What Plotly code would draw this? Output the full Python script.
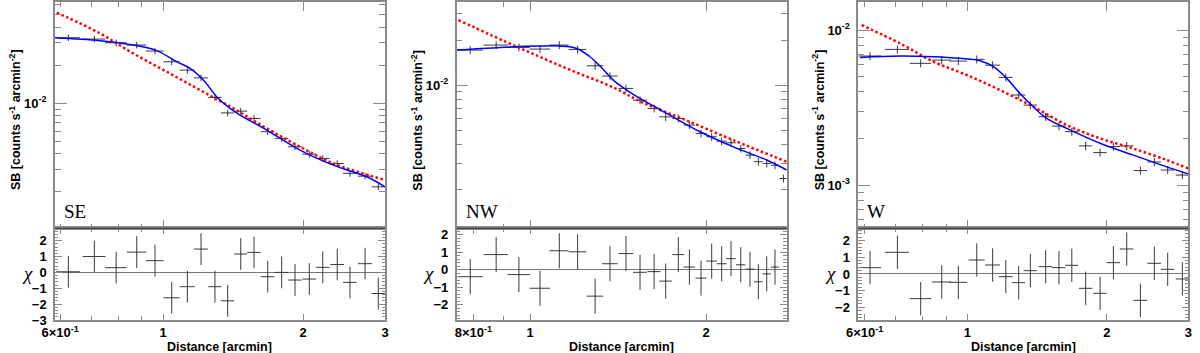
import numpy as np
import plotly.graph_objects as go

W, H = 1200, 353

# ---------------- SE sector ----------------
se_r = [0.625, 0.711, 0.792, 0.877, 0.960, 1.043, 1.127, 1.206, 1.292, 1.376, 1.468,
        1.568, 1.678, 1.798, 1.921, 2.062, 2.204, 2.368, 2.522, 2.718, 2.902]
se_r_err = [0.037, 0.040, 0.042, 0.042, 0.042, 0.042, 0.042, 0.042, 0.042, 0.045, 0.047,
            0.052, 0.057, 0.060, 0.065, 0.070, 0.075, 0.080, 0.085, 0.095, 0.095]
se_sb = [0.0330, 0.0322, 0.0301, 0.0289, 0.0259, 0.0213, 0.0183, 0.0159, 0.01114, 0.0084,
         0.00868, 0.0076, 0.00597, 0.00529, 0.00454, 0.00397, 0.00367, 0.00335, 0.0028,
         0.00266, 0.00219]
se_chi = [0.04, 1.0, 0.3, 1.28, 0.74, -1.6, -0.9, 1.47, -0.9, -1.79, 1.16, 1.26, -0.27,
          0.0, -0.48, -0.42, 0.32, 0.5, -0.63, 0.55, -1.33]
se_fit_r = [0.585, 0.731, 0.862, 0.968, 1.069, 1.142, 1.220, 1.303, 1.392, 1.463, 1.670,
            1.969, 2.322, 2.740, 3.0]
se_fit_sb = [0.0330, 0.0313, 0.0289, 0.0261, 0.02134, 0.0189, 0.01528, 0.01128, 0.00912,
             0.00808, 0.00615, 0.00427, 0.00325, 0.00263, 0.00219]
se_beta_r = [0.590, 0.731, 0.862, 1.017, 1.200, 1.415, 1.670, 1.969, 2.322, 3.0]
se_beta_sb = [0.0521, 0.0357, 0.0248, 0.01778, 0.01274, 0.00912, 0.00634, 0.00454,
              0.00335, 0.00248]

# ---------------- NW sector ----------------
nw_r = [0.790, 0.875, 0.957, 1.040, 1.122, 1.206, 1.292, 1.370, 1.459, 1.542, 1.630, 1.706,
        1.793, 1.873, 1.961, 2.045, 2.127, 2.207, 2.293, 2.378, 2.458, 2.540, 2.624, 2.713]
nw_r_err = [0.040, 0.042, 0.042, 0.042, 0.042, 0.042, 0.042, 0.042, 0.042, 0.042, 0.042,
            0.042, 0.042, 0.042, 0.042, 0.042, 0.042, 0.042, 0.042, 0.042, 0.042, 0.042,
            0.042, 0.042]
nw_sb = [0.01716, 0.01853, 0.01788, 0.01742, 0.01853, 0.01733, 0.01347, 0.01149, 0.00950,
         0.00793, 0.00698, 0.00613, 0.00598, 0.00540, 0.00475, 0.00451, 0.00421, 0.00411,
         0.00376, 0.00340, 0.00307, 0.00299, 0.00291, 0.00237]
nw_chi = [-0.39, 0.87, -0.27, -1.05, 1.09, 1.03, -1.5, 0.35, 0.93, -0.14, -0.1, -0.64, 0.87,
          0.16, -0.47, 0.5, 0.35, 0.64, 0.29, 0.04, -0.68, -0.23, 0.16, None]
nw_fit_r = [0.749, 0.889, 1.040, 1.125, 1.202, 1.266, 1.317, 1.388, 1.463, 1.542, 1.713,
            1.953, 2.227, 2.540, 2.748]
nw_fit_sb = [0.01716, 0.01788, 0.01825, 0.01825, 0.01760, 0.01548, 0.01341, 0.01080,
             0.00926, 0.00814, 0.00646, 0.00487, 0.00386, 0.00315, 0.00270]
nw_beta_r = [0.754, 0.949, 1.155, 1.388, 1.562, 1.829, 2.227, 2.748]
nw_beta_sb = [0.02725, 0.01806, 0.01293, 0.00965, 0.00761, 0.00592, 0.00428, 0.00307]

# ---------------- W sector ----------------
w_r = [0.6164, 0.7063, 0.7930, 0.8805, 0.9564, 1.048, 1.134, 1.211, 1.291, 1.368, 1.476,
       1.577, 1.681, 1.801, 1.935, 2.067, 2.209, 2.364, 2.534, 2.708, 2.913]
w_r_err = [0.035, 0.042, 0.042, 0.042, 0.042, 0.042, 0.042, 0.042, 0.042, 0.045, 0.050,
           0.052, 0.055, 0.060, 0.065, 0.070, 0.075, 0.080, 0.085, 0.090, 0.095]
w_sb = [0.00680, 0.00750, 0.00610, 0.00640, 0.00631, 0.00647, 0.00594, 0.00495, 0.00381,
        0.00328, 0.00276, 0.00240, 0.00221, 0.00179, 0.00162, 0.00177, 0.00179, 0.00124,
        0.00141, 0.00125, 0.00116]
w_chi = [0.38, 1.3, -1.48, -0.48, -0.5, 0.84, 0.54, -0.16, -0.52, 0.2, 0.44, 0.38, 0.52,
         -0.86, -1.16, 0.68, 1.5, -1.58, 0.64, 0.28, -0.3]
w_fit_r = [0.5866, 0.7157, 0.8448, 0.9643, 1.065, 1.138, 1.216, 1.299, 1.388, 1.484, 1.639,
           1.935, 2.283, 2.695, 3.0]
w_fit_sb = [0.00666, 0.00680, 0.00673, 0.00657, 0.00634, 0.00580, 0.00488, 0.00390,
            0.00320, 0.00269, 0.00232, 0.00186, 0.00156, 0.00131, 0.00118]
w_beta_r = [0.5913, 0.7157, 0.8448, 0.9968, 1.176, 1.388, 1.639, 1.935, 2.283, 2.695, 3.0]
w_beta_sb = [0.01077, 0.00820, 0.00625, 0.00513, 0.00410, 0.00320, 0.00244, 0.00200,
             0.00172, 0.00145, 0.00128]

panels = [
    dict(name="SE", r=se_r, rerr=se_r_err, sb=se_sb, chi=se_chi,
         fit_r=se_fit_r, fit_sb=se_fit_sb, beta_r=se_beta_r, beta_sb=se_beta_sb,
         px=(55, 385), xrange=(0.585, 3.0), yrange=(0.00103, 0.0632), chirange=(-3.0, 2.78),
         xmaj=[0.6, 1, 2, 3], xtext=["6×10<sup>-1</sup>", "1", "2", "3"], xmin=[0.7, 0.8, 0.9],
         ymaj=[0.01], ytext=["10<sup>-2</sup>"], chimaj=[-3, -2, -1, 0, 1, 2]),
    dict(name="NW", r=nw_r, rerr=nw_r_err, sb=nw_sb, chi=nw_chi,
         fit_r=nw_fit_r, fit_sb=nw_fit_sb, beta_r=nw_beta_r, beta_sb=nw_beta_sb,
         px=(456.7, 786.7), xrange=(0.749, 2.748), yrange=(0.0011, 0.036), chirange=(-2.86, 2.37),
         xmaj=[0.8, 1, 2], xtext=["8×10<sup>-1</sup>", "1", "2"], xmin=[0.9],
         ymaj=[0.01], ytext=["10<sup>-2</sup>"], chimaj=[-2, -1, 0, 1, 2]),
    dict(name="W", r=w_r, rerr=w_r_err, sb=w_sb, chi=w_chi,
         fit_r=w_fit_r, fit_sb=w_fit_sb, beta_r=w_beta_r, beta_sb=w_beta_sb,
         px=(858.3, 1188.3), xrange=(0.5815, 3.0), yrange=(0.000526, 0.01517), chirange=(-2.76, 2.74),
         xmaj=[0.6, 1, 2, 3], xtext=["6×10<sup>-1</sup>", "1", "2", "3"], xmin=[0.7, 0.8, 0.9],
         ymaj=[0.001, 0.01], ytext=["10<sup>-3</sup>", "10<sup>-2</sup>"], chimaj=[-2, -1, 0, 1, 2]),
]

TOP_Y = (2, 228.3)
RES_Y = (228.3, 320)
FRAME = "#8a8a8a"
DATA = "#3a3a3a"
tickfont = dict(family="Liberation Sans, Arial", size=13, color="black", weight="bold")
log_minor = [m * 10.0 ** e for e in range(-5, 0) for m in range(2, 10)]

fig = go.Figure()
layout = {}
annotations = []
shapes = []

for i, p in enumerate(panels):
    top, res = 2 * i + 1, 2 * i + 2
    xt, xr = f"x{top}", f"x{res}"
    yt, yr = f"y{top}", f"y{res}"
    xdom = [p["px"][0] / W, p["px"][1] / W]

    # surface brightness data
    fig.add_trace(go.Scatter(
        x=p["r"], y=p["sb"], xaxis=xt, yaxis=yt, mode="markers",
        marker=dict(size=1, color=DATA),
        error_x=dict(type="data", array=p["rerr"], width=0, thickness=1, color=DATA),
        error_y=dict(type="percent", value=6, width=0, thickness=1, color=DATA),
        showlegend=False,
    ))
    # single power-law / beta model
    fig.add_trace(go.Scatter(
        x=p["beta_r"], y=p["beta_sb"], xaxis=xt, yaxis=yt, mode="lines",
        line=dict(color="#ff0000", width=2.5, dash="2.5px,2.5px", shape="spline"),
        showlegend=False,
    ))
    # broken power-law fit
    fig.add_trace(go.Scatter(
        x=p["fit_r"], y=p["fit_sb"], xaxis=xt, yaxis=yt, mode="lines",
        line=dict(color="#0000ff", width=1.5, shape="spline"),
        showlegend=False,
    ))
    # residuals
    fig.add_trace(go.Scatter(
        x=p["r"], y=p["chi"], xaxis=xr, yaxis=yr, mode="markers",
        marker=dict(size=1, color=DATA),
        error_x=dict(type="data", array=p["rerr"], width=0, thickness=1, color=DATA),
        error_y=dict(type="constant", value=1, width=0, thickness=1, color=DATA),
        showlegend=False,
    ))

    xlog = [np.log10(p["xrange"][0]), np.log10(p["xrange"][1])]
    common_x = dict(type="log", range=xlog, domain=xdom, showgrid=False, zeroline=False,
                    showline=True, linecolor=FRAME, linewidth=1.5, mirror="allticks",
                    ticks="inside", tickcolor=FRAME, tickwidth=1, tickmode="array",
                    tickfont=tickfont)
    layout[f"xaxis{top}"] = dict(common_x, anchor=yt, tickvals=[1, 2], ticklen=9,
                                 showticklabels=False,
                                 minor=dict(tickmode="array", tickvals=[0.6] + p["xmin"] + [3],
                                            ticks="inside", ticklen=5, tickcolor=FRAME))
    layout[f"xaxis{res}"] = dict(common_x, anchor=yr, tickvals=p["xmaj"], ticktext=p["xtext"],
                                 ticklen=6,
                                 minor=dict(tickmode="array", tickvals=p["xmin"],
                                            ticks="inside", ticklen=4, tickcolor=FRAME))
    layout[f"yaxis{top}"] = dict(
        type="log", range=[np.log10(p["yrange"][0]), np.log10(p["yrange"][1])],
        domain=[1 - TOP_Y[1] / H, 1 - TOP_Y[0] / H], anchor=xt,
        showgrid=False, zeroline=False, showline=True, linecolor=FRAME, linewidth=1.5,
        mirror="allticks", ticks="inside", tickcolor=FRAME, ticklen=12, tickwidth=1,
        tickmode="array", tickvals=p["ymaj"], ticktext=p["ytext"], tickfont=tickfont,
        ticklabelstandoff=4,
        minor=dict(tickmode="array", tickvals=log_minor, ticks="inside", ticklen=6,
                   tickcolor=FRAME),
    )
    layout[f"yaxis{res}"] = dict(
        range=list(p["chirange"]), domain=[1 - RES_Y[1] / H, 1 - RES_Y[0] / H], anchor=xr,
        showgrid=False, zeroline=True, zerolinecolor="#777777", zerolinewidth=1,
        showline=True, linecolor=FRAME, linewidth=1.5, mirror="allticks",
        ticks="inside", tickcolor=FRAME, ticklen=7, tickwidth=1,
        tickmode="array", tickvals=p["chimaj"], tickfont=tickfont, ticklabelstandoff=4,
        minor=dict(dtick=0.2, ticks="inside", ticklen=3.5, tickcolor=FRAME),
    )

    # dark separator between the two panels
    shapes.append(dict(type="line", xref="paper", yref="paper", x0=xdom[0], x1=xdom[1],
                       y0=1 - RES_Y[0] / H, y1=1 - RES_Y[0] / H,
                       line=dict(color="#333333", width=1)))

    x0 = p["px"][0]
    cx = (p["px"][0] + p["px"][1]) / 2
    annotations += [
        dict(text="SB [counts s<sup>-1</sup> arcmin<sup>-2</sup>]", textangle=-90,
             x=(x0 - 40) / W, y=1 - 120 / H, xref="paper", yref="paper", showarrow=False,
             xanchor="center", yanchor="middle",
             font=dict(family="Liberation Sans, Arial", size=12.5, color="black", weight="bold")),
        dict(text="<i>χ</i>", x=(x0 - 28) / W, y=1 - 273 / H, xref="paper", yref="paper",
             showarrow=False, xanchor="center", yanchor="middle",
             font=dict(family="Liberation Serif, Times New Roman", size=19, color="black")),
        dict(text="Distance [arcmin]", x=cx / W, y=1 - 346.5 / H, xref="paper", yref="paper",
             showarrow=False, xanchor="center", yanchor="middle",
             font=dict(family="Liberation Sans, Arial", size=12.5, color="black", weight="bold")),
        dict(text=p["name"], x=(x0 + 7) / W, y=1 - 211.5 / H, xref="paper", yref="paper",
             showarrow=False, xanchor="left", yanchor="middle",
             font=dict(family="Liberation Serif, Times New Roman", size=19, color="black")),
    ]

fig.update_layout(
    width=W, height=H, autosize=False,
    margin=dict(l=0, r=0, t=0, b=0, autoexpand=False),
    plot_bgcolor="white", paper_bgcolor="white",
    annotations=annotations, shapes=shapes,
    **layout,
)

# the page's default body margin would push the figure 8px off the window
fig.write_html(
    "out.html",
    config={"displayModeBar": False},
    post_script="document.body.style.margin='0';document.body.style.overflow='hidden';",
)
